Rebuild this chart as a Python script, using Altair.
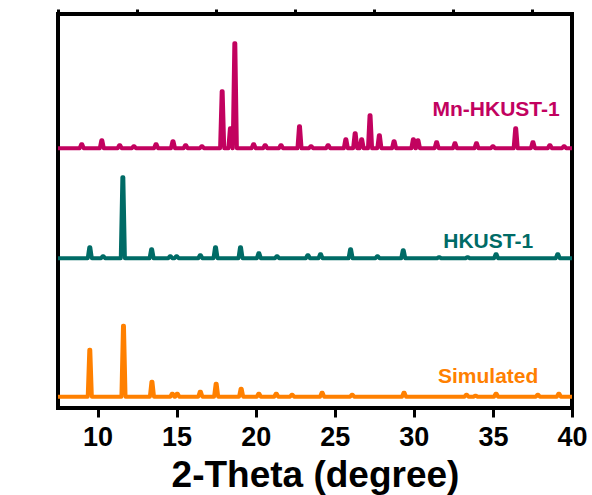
import altair as alt
import pandas as pd

# ---- data ----
x_min, x_max = 7.5, 40.0
series_names = ["Mn-HKUST-1", "HKUST-1", "Simulated"]
series_colors = ["#C2025F", "#006B66", "#FF8000"]
baselines = [259.7, 149.7, 11.3]

mn_pos = [9.0, 10.27, 11.4, 12.3, 13.7, 14.77, 15.57, 16.6, 17.88, 18.40, 18.68, 19.87,
          20.6, 21.6, 22.77, 23.5, 24.58, 25.7, 26.29, 26.7, 27.23, 27.82, 28.75, 29.97,
          30.26, 31.44, 32.6, 33.96, 35.0, 36.44, 37.53, 38.6, 39.5]
mn_h = [4, 8, 3, 2, 4, 7, 3, 2, 57, 20, 105, 4,
        3, 3, 22, 2, 3, 9, 15, 9, 33, 13, 7, 9,
        8, 6, 5, 5, 2, 20, 6, 3, 2]

hk_pos = [9.51, 10.35, 11.6, 13.42, 14.6, 15.0, 16.5, 17.46, 19.04, 20.2, 21.35, 23.3,
          24.1, 26.0, 27.7, 29.33, 31.6, 33.4, 35.2, 39.1]
hk_h = [11, 2, 81, 9, 2, 2, 3, 11, 11, 5, 2, 3,
        4, 9, 2, 8, 1, 1, 4, 4]

sim_pos = [9.51, 11.64, 13.44, 14.73, 15.04, 16.5, 17.5, 19.08, 20.2, 21.3, 22.3, 24.2,
           26.1, 29.38, 33.33, 33.9, 35.2, 37.84, 39.17]
sim_h = [47, 71, 15, 3, 3, 5, 13, 8, 3, 3, 2, 4,
         2, 4, 2, 1, 3, 2, 3]

label_x = [35.2, 34.7, 34.7]
label_y = [292, 160, 25]

major_ticks = [10, 15, 20, 25, 30, 35, 40]
minor_ticks = [7.5, 12.5, 17.5, 22.5, 27.5, 32.5, 37.5]

# ---- build line table ----
rows = []
half_base, half_top = 0.13, 0.03
for name, base, pos, hts in zip(series_names, baselines,
                                [mn_pos, hk_pos, sim_pos], [mn_h, hk_h, sim_h]):
    pts = [(x_min, base)]
    for p, h in zip(pos, hts):
        pts += [(p - half_base, base), (p - half_top, base + h),
                (p + half_top, base + h), (p + half_base, base)]
    pts.append((x_max, base))
    for i, (x, y) in enumerate(pts):
        rows.append({"series": name, "theta": x, "intensity": y, "idx": i})
df = pd.DataFrame(rows)
labels = pd.DataFrame({"series": series_names, "theta": label_x, "intensity": label_y})

color = alt.Color("series:N", scale=alt.Scale(domain=series_names, range=series_colors),
                  legend=None)
x_scale = alt.Scale(domain=[x_min, x_max], nice=False, zero=False)
y_scale = alt.Scale(domain=[0, 394], nice=False, zero=False)

x_major = alt.X("theta:Q", scale=x_scale,
                axis=alt.Axis(values=major_ticks, title="2-Theta (degree)", format="d",
                              tickSize=9, tickWidth=3, tickColor="black",
                              domain=False, grid=False,
                              labelFont="Liberation Sans", labelFontWeight="bold",
                              labelFontSize=27, labelColor="black", labelPadding=7,
                              labelOverlap=False, labelFlush=False,
                              titleFont="Liberation Sans", titleFontWeight="bold",
                              titleFontSize=37, titleColor="black",
                              titleY=78, titleBaseline="alphabetic"))
x_minor = alt.X("theta:Q", scale=x_scale,
                axis=alt.Axis(values=minor_ticks, title=None, labels=False,
                              tickSize=5, tickWidth=3, tickColor="black",
                              domain=False, grid=False))
y_enc = alt.Y("intensity:Q", scale=y_scale,
              axis=alt.Axis(title="Intensity (a.u.)", labels=False, ticks=False,
                            domain=False, grid=False,
                            titleFont="Liberation Sans", titleFontWeight="bold",
                            titleFontSize=37, titleColor="black",
                            titleAngle=270, titleX=-15, titleY=186,
                            titleAlign="center", titleBaseline="alphabetic"))

lines = alt.Chart(df).mark_line(strokeWidth=4, strokeJoin="round").encode(
    x=x_major, y=y_enc, color=color, order="idx:Q", detail="series:N")

texts = alt.Chart(labels).mark_text(font="Liberation Sans", fontWeight="bold",
                                    fontSize=21, align="center",
                                    baseline="alphabetic").encode(
    x=x_minor, y=alt.Y("intensity:Q", scale=y_scale, axis=None),
    text="series:N", color=color)

chart = alt.layer(lines, texts).resolve_axis(x="independent").properties(
    width=514, height=394,
    autosize=alt.AutoSizeParams(type="none"),
    padding={"left": 58, "top": 14, "right": 20, "bottom": 87},
    background="white",
).configure_view(stroke="black", strokeWidth=4)

chart.save("out.html", embed_options={"renderer": "svg", "actions": False})
